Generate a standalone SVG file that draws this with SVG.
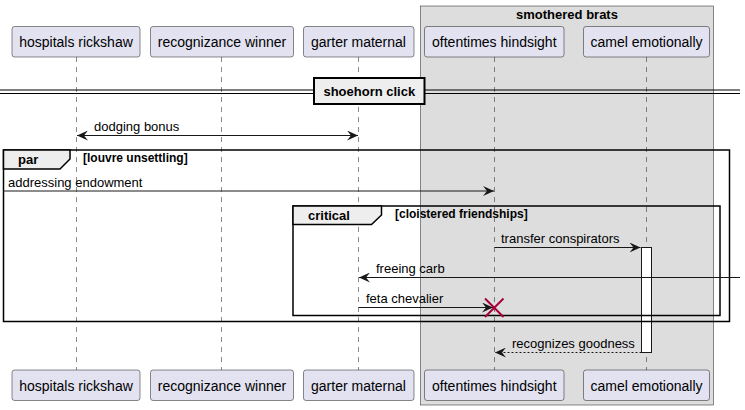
<svg xmlns="http://www.w3.org/2000/svg" width="745" height="410" viewBox="0 0 745 410">
<defs>
<style>
.pbox{fill:#E2E2F0;stroke:#181818;stroke-width:0.5}
.pt{font-family:"Liberation Sans",Arial,sans-serif;font-size:14px;fill:#000}
.life{stroke:#181818;stroke-width:0.5;stroke-dasharray:5,5;fill:none}
.msg{stroke:#181818;stroke-width:1;fill:none}
.dash{stroke-dasharray:2,2}
.mt{font-family:"Liberation Sans",Arial,sans-serif;font-size:13px;fill:#000}
.frame{fill:none;stroke:#000;stroke-width:1.5}
.tab{fill:#EEEEEE;stroke:#000;stroke-width:1.5}
.ft{font-family:"Liberation Sans",Arial,sans-serif;font-size:13px;font-weight:bold;fill:#000}
.fc{font-family:"Liberation Sans",Arial,sans-serif;font-size:12px;font-weight:bold;fill:#000}
</style>
<marker id="ah" viewBox="0 0 12 10" refX="11" refY="5" markerWidth="12" markerHeight="10" markerUnits="userSpaceOnUse" orient="auto-start-reverse">
<path d="M0,0 L11,5 L0,10 L4,5 Z" fill="#181818"/>
</marker>
</defs>

<g id="box-smothered-brats">
<rect x="420.5" y="6" width="293" height="399" fill="#DDDDDD" stroke="#181818" stroke-width="0.5"/>
<text x="567" y="19" text-anchor="middle" class="ft">smothered brats</text>
</g>

<g id="lifelines">
<line class="life" x1="76.5" y1="57" x2="76.5" y2="370"/>
<line class="life" x1="221.5" y1="57" x2="221.5" y2="370"/>
<line class="life" x1="358.5" y1="57" x2="358.5" y2="370"/>
<line class="life" x1="494.5" y1="57" x2="494.5" y2="370"/>
<line class="life" x1="646.5" y1="57" x2="646.5" y2="370"/>
</g>

<g id="p-hospitals-rickshaw">
<rect class="pbox" x="12" y="26.5" width="128" height="30.5" rx="2.5"/>
<text class="pt" x="76" y="47" text-anchor="middle">hospitals rickshaw</text>
<rect class="pbox" x="12" y="370" width="128" height="30.5" rx="2.5"/>
<text class="pt" x="76" y="390.5" text-anchor="middle">hospitals rickshaw</text>
</g>
<g id="p-recognizance-winner">
<rect class="pbox" x="150.5" y="26.5" width="143" height="30.5" rx="2.5"/>
<text class="pt" x="222" y="47" text-anchor="middle">recognizance winner</text>
<rect class="pbox" x="150.5" y="370" width="143" height="30.5" rx="2.5"/>
<text class="pt" x="222" y="390.5" text-anchor="middle">recognizance winner</text>
</g>
<g id="p-garter-maternal">
<rect class="pbox" x="303.5" y="26.5" width="110.5" height="30.5" rx="2.5"/>
<text class="pt" x="358.5" y="47" text-anchor="middle">garter maternal</text>
<rect class="pbox" x="303.5" y="370" width="110.5" height="30.5" rx="2.5"/>
<text class="pt" x="358.5" y="390.5" text-anchor="middle">garter maternal</text>
</g>
<g id="p-oftentimes-hindsight">
<rect class="pbox" x="424.5" y="26.5" width="139.5" height="30.5" rx="2.5"/>
<text class="pt" x="494.3" y="47" text-anchor="middle">oftentimes hindsight</text>
<rect class="pbox" x="424.5" y="370" width="139.5" height="30.5" rx="2.5"/>
<text class="pt" x="494.3" y="390.5" text-anchor="middle">oftentimes hindsight</text>
</g>
<g id="p-camel-emotionally">
<rect class="pbox" x="583.5" y="26.5" width="126" height="30.5" rx="2.5"/>
<text class="pt" x="646.5" y="47" text-anchor="middle">camel emotionally</text>
<rect class="pbox" x="583.5" y="370" width="126" height="30.5" rx="2.5"/>
<text class="pt" x="646.5" y="390.5" text-anchor="middle">camel emotionally</text>
</g>

<g id="divider-shoehorn-click">
<line x1="0" y1="90" x2="740" y2="90" stroke="#000" stroke-width="1"/>
<line x1="0" y1="93.5" x2="740" y2="93.5" stroke="#000" stroke-width="1"/>
<rect x="314" y="78" width="110.5" height="26" fill="#EEEEEE" stroke="#000" stroke-width="2"/>
<text x="369.3" y="96" text-anchor="middle" class="ft">shoehorn click</text>
</g>

<g id="activation-camel">
<rect x="641.5" y="247.5" width="10" height="105" fill="#FFFFFF" stroke="#181818" stroke-width="1"/>
</g>

<g id="frame-par">
<rect class="frame" x="3.5" y="150" width="726" height="171.5"/>
<path class="tab" d="M3.5,150 L70,150 L70,159 L60,169 L3.5,169 Z"/>
<text x="18" y="164" class="ft">par</text>
<text x="83" y="162" class="fc">[louvre unsettling]</text>
</g>

<g id="frame-critical">
<rect class="frame" x="293" y="206" width="427" height="109.5"/>
<path class="tab" d="M293,206 L381.5,206 L381.5,215 L371.5,224.5 L293,224.5 Z"/>
<text x="308" y="220" class="ft">critical</text>
<text x="395" y="218" class="fc">[cloistered friendships]</text>
</g>

<g id="connectors">
<line class="msg" x1="77" y1="135.5" x2="358" y2="135.5" marker-start="url(#ah)" marker-end="url(#ah)"/>
<text class="mt" x="94" y="131">dodging bonus</text>

<line class="msg" x1="3.5" y1="191" x2="494" y2="191" marker-end="url(#ah)"/>
<text class="mt" x="8" y="187">addressing endowment</text>

<line class="msg" x1="494.5" y1="247.5" x2="640.5" y2="247.5" marker-end="url(#ah)"/>
<text class="mt" x="501" y="242.5">transfer conspirators</text>

<line class="msg" x1="740" y1="277.5" x2="359" y2="277.5" marker-end="url(#ah)"/>
<text class="mt" x="376" y="273">freeing carb</text>

<line class="msg" x1="358.5" y1="307.5" x2="493" y2="307.5" marker-end="url(#ah)"/>
<text class="mt" x="366" y="303">feta chevalier</text>
<g stroke="#A80036" stroke-width="2">
<line x1="485" y1="298.5" x2="503.5" y2="317"/>
<line x1="503.5" y1="298.5" x2="485" y2="317"/>
</g>

<line class="msg dash" x1="641.5" y1="352.5" x2="495" y2="352.5" marker-end="url(#ah)"/>
<text class="mt" x="512" y="348">recognizes goodness</text>
</g>
</svg>
